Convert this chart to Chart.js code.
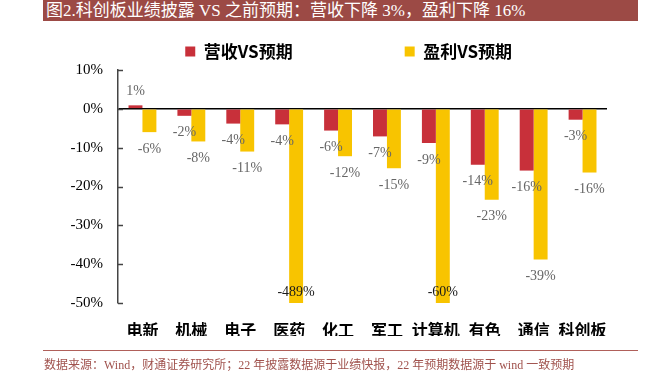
<!DOCTYPE html>
<html>
<head>
<meta charset="utf-8">
<script src="https://cdn.jsdelivr.net/npm/chart.js@4"></script>
<style>
  body { margin: 0; width: 671px; height: 376px; background: #fff; position: relative; overflow: hidden; }
  #wrap { position: absolute; left: 0; top: 0; width: 671px; height: 376px; }
  #title {
    position: absolute; left: 43px; top: 0; width: 595px; height: 21px;
    background: #9c4a45; color: #fff; box-sizing: border-box; padding-left: 3px;
    font: 17px "Liberation Serif", "Noto Sans CJK SC", serif; line-height: 21px; white-space: nowrap;
  }
  #rule { position: absolute; left: 43px; top: 350px; width: 595px; height: 1px; background: #b0605a; }
  #note {
    position: absolute; left: 44px; top: 357px; color: #a0524d; white-space: nowrap;
    font: 12px "Liberation Serif", "Noto Sans CJK SC", serif; line-height: 16px;
  }
</style>
</head>
<body>
<div id="wrap"><canvas id="chart" width="671" height="376"></canvas></div>
<div id="title">图2.科创板业绩披露 VS 之前预期：营收下降 3%，盈利下降 16%</div>
<div id="rule"></div>
<div id="note">数据来源：Wind，财通证券研究所；22 年披露数据源于业绩快报，22 年预期数据源于 wind 一致预期</div>
<script>
// sectors, left to right
const categories = ["电新", "机械", "电子", "医药", "化工", "军工", "计算机", "有色", "通信", "科创板"];
// % vs expectations
const revenueVsExpected = [0.9, -1.8, -3.8, -4.0, -5.6, -7.1, -8.8, -14.4, -15.9, -2.8];
const profitVsExpected = [-6.0, -8.4, -11.0, -489, -12.2, -15.3, -60, -23.4, -38.8, -16.4];
const seriesNames = ["营收VS预期", "盈利VS预期"];
const yMin = -50, yMax = 10, yStep = 10;

const sans = '"Noto Sans CJK SC", "Noto Sans", sans-serif';
const serif = '"Liberation Serif", "Times New Roman", serif';

// value labels under / over each bar (clipped bars get theirs at the bottom)
const barLabels = {
  id: "barLabels",
  afterDatasetsDraw(chart) {
    const ctx = chart.ctx;
    const area = chart.chartArea;
    const min = chart.scales.y.min;
    ctx.save();
    ctx.font = "14px " + serif;
    ctx.textAlign = "center";
    ctx.textBaseline = "middle";
    chart.data.datasets.forEach((ds, i) => {
      chart.getDatasetMeta(i).data.forEach((bar, j) => {
        const v = ds.data[j];
        let y;
        if (v < min) {
          y = area.bottom - 11;
          ctx.fillStyle = "#1a1a1a";
        } else if (v >= 0) {
          y = bar.y - 14;
          ctx.fillStyle = "#666";
        } else {
          y = bar.y + 17;
          ctx.fillStyle = "#666";
        }
        ctx.fillText(Math.round(v) + "%", bar.x, y);
      });
    });
    ctx.restore();
  }
};

// short tick marks pointing into the plot
const innerTicks = {
  id: "innerTicks",
  afterDraw(chart) {
    const ctx = chart.ctx;
    const ys = chart.scales.y;
    const x = chart.chartArea.left;
    ctx.save();
    ctx.strokeStyle = "#444";
    ctx.lineWidth = 1.5;
    ys.ticks.forEach((t) => {
      const y = Math.round(ys.getPixelForValue(t.value)) + 0.5;
      ctx.beginPath();
      ctx.moveTo(x, y);
      ctx.lineTo(x + 5, y);
      ctx.stroke();
    });
    ctx.restore();
  }
};

new Chart(document.getElementById("chart"), {
  type: "bar",
  data: {
    labels: categories,
    datasets: [
      {
        label: seriesNames[0],
        data: revenueVsExpected,
        backgroundColor: "#c8303a"
      },
      {
        label: seriesNames[1],
        data: profitVsExpected,
        backgroundColor: "#f8c400"
      }
    ]
  },
  options: {
    responsive: false,
    animation: false,
    categoryPercentage: 0.57,
    barPercentage: 1.0,
    layout: { padding: { top: 33, left: 58, right: 64, bottom: 40 } },
    plugins: {
      legend: {
        labels: {
          boxWidth: 10,
          boxHeight: 10,
          padding: 10,
          color: "#000",
          font: { family: sans, size: 17, weight: "bold" },
          generateLabels(chart) {
            const items = Chart.defaults.plugins.legend.labels.generateLabels(chart);
            // wide gap after the first entry, small blank spacer in front to push the pair right
            items[0].text = items[0].text + "\u3000\u3000\u3000\u3000\u3000\u3000";
            const spacer = { text: " ", fillStyle: "rgba(0,0,0,0)", strokeStyle: "rgba(0,0,0,0)", lineWidth: 0, hidden: false };
            return [spacer].concat(items);
          }
        }
      },
      tooltip: { enabled: false }
    },
    scales: {
      x: {
        grid: { display: false, drawTicks: false },
        border: { display: false },
        ticks: {
          color: "#000",
          padding: 17,
          autoSkip: false,
          maxRotation: 0,
          minRotation: 0,
          font: { family: sans, size: 16, weight: "bold" }
        },
        afterFit(scale) { scale.height = 33; }
      },
      y: {
        min: yMin,
        max: yMax,
        grid: {
          drawTicks: false,
          lineWidth: 1.5,
          color: (c) => (c.tick && c.tick.value === 0 ? "#000" : "rgba(0,0,0,0)")
        },
        border: { color: "#444", width: 1.5 },
        ticks: {
          stepSize: yStep,
          color: "#000",
          padding: 15,
          font: { family: serif, size: 15 },
          callback: (v) => v + "%"
        },
        afterFit(scale) { scale.width = 60; }
      }
    }
  },
  plugins: [barLabels, innerTicks]
});
</script>
</body>
</html>
